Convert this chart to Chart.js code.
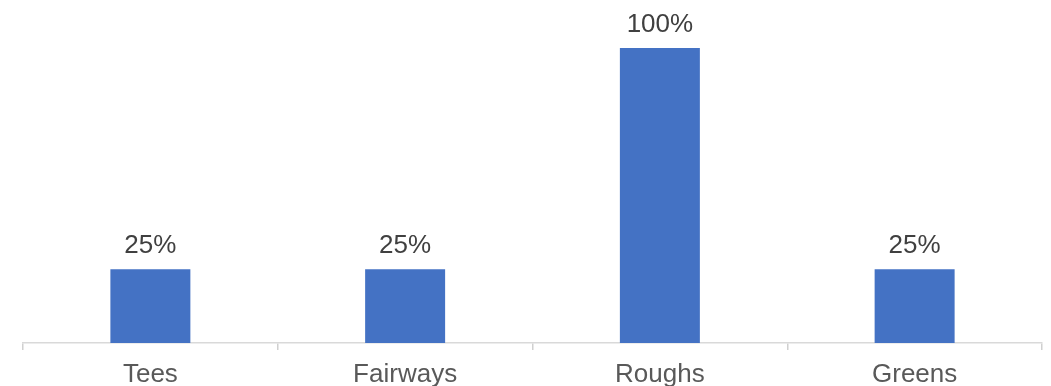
<!DOCTYPE html>
<html>
<head>
<meta charset="utf-8">
<script src="https://cdn.jsdelivr.net/npm/chart.js@4/dist/chart.umd.min.js"></script>
<style>
  html, body { margin: 0; padding: 0; background: #fff; }
  #wrap { width: 1051px; height: 386px; }
</style>
</head>
<body>
<div id="wrap"><canvas id="bar-chart"></canvas></div>
<script>
var areas = ['Tees', 'Fairways', 'Roughs', 'Greens'];
var shares = [25, 25, 100, 25];

// value labels above each bar
var barLabels = {
  id: 'barLabels',
  afterDatasetsDraw: function(chart) {
    var ctx = chart.ctx;
    var meta = chart.getDatasetMeta(0);
    ctx.save();
    ctx.font = '26px "Liberation Sans", Arial, sans-serif';
    ctx.fillStyle = '#404040';
    ctx.textAlign = 'center';
    ctx.textBaseline = 'alphabetic';
    meta.data.forEach(function(bar, i) {
      ctx.fillText(shares[i] + '%', bar.x, bar.y - 16);
    });
    ctx.restore();
  }
};

new Chart(document.getElementById('bar-chart'), {
  type: 'bar',
  data: {
    labels: areas,
    datasets: [{
      data: shares,
      backgroundColor: '#4472C4',
      barPercentage: 0.628,
      categoryPercentage: 0.5
    }]
  },
  options: {
    responsive: true,
    maintainAspectRatio: false,
    animation: false,
    layout: { padding: { top: 48, left: 23, right: 9, bottom: 0 } },
    plugins: {
      legend: { display: false },
      tooltip: { enabled: false }
    },
    scales: {
      x: {
        afterFit: function(scale) { scale.height = 43; },
        grid: {
          offset: true,
          drawOnChartArea: false,
          drawTicks: true,
          tickLength: 7,
          color: '#D0D0D0',
          lineWidth: 1.5
        },
        border: { color: '#D9D9D9', width: 1.5 },
        ticks: {
          color: '#595959',
          padding: 9,
          font: { family: '"Liberation Sans", Arial, sans-serif', size: 26 }
        }
      },
      y: {
        display: false,
        min: 0,
        max: 100
      }
    }
  },
  plugins: [barLabels]
});
</script>
</body>
</html>
